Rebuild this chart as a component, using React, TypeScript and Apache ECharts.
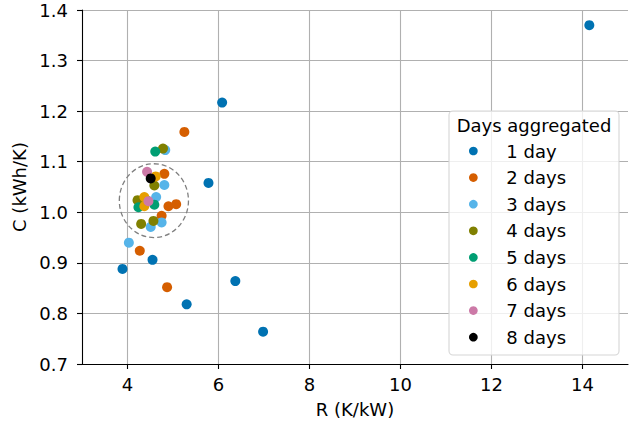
import React, { useEffect, useRef } from "react";
import * as echarts from "echarts";

const seriesNames = ["1 day", "2 days", "3 days", "4 days", "5 days", "6 days", "7 days", "8 days"];
const seriesColors = ["#0072b2", "#d55e00", "#56b4e9", "#808000", "#009e73", "#e69f00", "#cc79a7", "#000000"];

const oneDay = [[14.15, 1.370], [6.08, 1.217], [5.78, 1.058], [3.89, 0.888], [4.55, 0.906], [6.37, 0.864], [5.30, 0.818], [6.98, 0.764]];
const twoDays = [[5.25, 1.159], [4.81, 1.076], [4.90, 1.012], [5.07, 1.016], [4.75, 0.993], [4.27, 0.924], [4.87, 0.852]];
const threeDays = [[4.83, 1.123], [4.81, 1.054], [4.63, 1.030], [4.75, 0.980], [4.51, 0.971], [4.03, 0.940]];
const fourDays = [[4.78, 1.126], [4.59, 1.053], [4.22, 1.024], [4.30, 0.977], [4.57, 0.983]];
const fiveDays = [[4.61, 1.120], [4.43, 1.023], [4.24, 1.010], [4.59, 1.015]];
const sixDays = [[4.62, 1.071], [4.37, 1.030], [4.37, 1.012]];
const sevenDays = [[4.43, 1.080], [4.46, 1.022]];
const eightDays = [[4.51, 1.067]];

const allSeries = [oneDay, twoDays, threeDays, fourDays, fiveDays, sixDays, sevenDays, eightDays];

const xTicks = [4, 6, 8, 10, 12, 14];
const clusterCenter = [[4.58, 1.023]];
const clusterRadius = [0.76, 0.073];

const FONT = "DejaVu Sans";
const FS = 18;

export default function App() {
  const ref = useRef<HTMLDivElement>(null);
  useEffect(() => {
    const chart = echarts.init(ref.current!, null, { renderer: "svg" });
    const scatter = allSeries.map((d, i) => ({
      type: "scatter",
      name: seriesNames[i],
      data: d,
      symbol: "circle",
      symbolSize: 10,
      itemStyle: { color: seriesColors[i], opacity: 1 },
      z: 3,
    }));
    chart.setOption({
      animation: false,
      backgroundColor: "#ffffff",
      textStyle: { fontFamily: FONT },
      grid: { left: 82, right: 4, top: 10, bottom: 60, containLabel: false, outerBoundsMode: "none" },
      xAxis: {
        type: "value",
        min: 3,
        max: 15,
        name: "R (K/kW)",
        nameLocation: "middle",
        nameGap: 36,
        nameTextStyle: { fontSize: FS, color: "#000", fontFamily: FONT },
        axisLine: { onZero: false, lineStyle: { color: "#000", width: 1.1 } },
        axisTick: { show: true, length: 5, lineStyle: { color: "#000", width: 1.1 }, customValues: xTicks },
        axisLabel: { fontSize: FS, color: "#000", margin: 11, fontFamily: FONT, customValues: xTicks },
        splitLine: { show: true, lineStyle: { color: "#b0b0b0", width: 1.1 } },
      },
      yAxis: {
        type: "value",
        min: 0.7,
        max: 1.4,
        interval: 0.1,
        name: "C (kWh/K)",
        nameLocation: "middle",
        nameGap: 44,
        nameTextStyle: { fontSize: FS, color: "#000", fontFamily: FONT },
        axisLine: { show: true, onZero: false, lineStyle: { color: "#000", width: 1.1 } },
        axisTick: { show: true, length: 5, lineStyle: { color: "#000", width: 1.1 } },
        axisLabel: {
          fontSize: FS,
          color: "#000",
          margin: 14,
          fontFamily: FONT,
          formatter: (v: number) => v.toFixed(1),
        },
        splitLine: { show: true, lineStyle: { color: "#b0b0b0", width: 1.1 } },
      },
      legend: {
        data: seriesNames,
        orient: "vertical",
        left: 469,
        top: 142,
        padding: 0,
        icon: "circle",
        itemWidth: 56,
        itemHeight: 8.7,
        itemGap: 8.6,
        textStyle: { fontSize: FS, color: "#000", fontFamily: FONT, lineHeight: 18 },
        z: 6,
      },
      graphic: [
        {
          type: "rect",
          shape: { x: 449, y: 111, width: 170, height: 244, r: 4 },
          style: { fill: "rgba(255,255,255,0.8)", stroke: "#d6d6d6", lineWidth: 1.1 },
          z: 5,
        },
        {
          type: "text",
          x: 534,
          y: 125,
          style: {
            text: "Days aggregated",
            fontSize: FS,
            fontFamily: FONT,
            fill: "#000",
            align: "center",
            verticalAlign: "middle",
          },
          z: 6,
        },
      ],
      series: [
        {
          type: "custom",
          name: "cluster",
          data: clusterCenter,
          z: 2,
          silent: true,
          renderItem: (params: any, api: any) => {
            const c = api.coord([api.value(0), api.value(1)]);
            const s = api.size(clusterRadius);
            return {
              type: "ellipse",
              shape: { cx: c[0], cy: c[1], rx: s[0], ry: s[1] },
              style: { fill: "none", stroke: "#808080", lineWidth: 1.3, lineDash: [5, 3] },
            };
          },
        },
        ...scatter,
      ],
    });
    return () => chart.dispose();
  }, []);
  return <div ref={ref} style={{ width: 632, height: 424, position: "absolute", left: 0, top: 0 }} />;
}
